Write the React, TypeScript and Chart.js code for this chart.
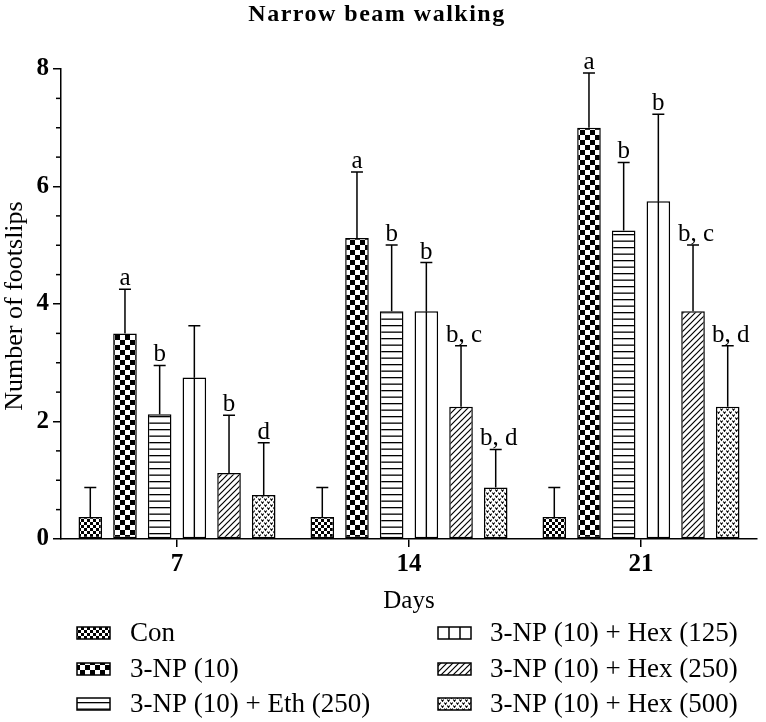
import React, { useEffect, useRef } from 'react';
import { Chart, registerables } from 'chart.js';

Chart.register(...registerables);

const days = ['7', '14', '21'];
const groupNames = [
  'Con',
  '3-NP (10)',
  '3-NP (10) + Eth (250)',
  '3-NP (10) + Hex (125)',
  '3-NP (10) + Hex (250)',
  '3-NP (10) + Hex (500)',
];
const conMean = [0.375, 0.375, 0.375];
const conErr = [0.5, 0.5, 0.5];
const npMean = [3.5, 5.125, 7.0];
const npErr = [0.75, 1.12, 0.93];
const ethMean = [2.125, 3.875, 5.25];
const ethErr = [0.83, 1.13, 1.16];
const hex125Mean = [2.75, 3.875, 5.75];
const hex125Err = [0.88, 0.83, 1.48];
const hex250Mean = [1.125, 2.25, 3.875];
const hex250Err = [0.98, 1.04, 1.13];
const hex500Mean = [0.75, 0.875, 2.25];
const hex500Err = [0.89, 0.65, 1.04];

const conLetters = ['', '', ''];
const npLetters = ['a', 'a', 'a'];
const ethLetters = ['b', 'b', 'b'];
const hex125Letters = ['', 'b', 'b'];
const hex250Letters = ['b', 'b, c', 'b, c'];
const hex500Letters = ['d', 'b, d', 'b, d'];

const yTicks = [0, 2, 4, 6, 8];

const means = [conMean, npMean, ethMean, hex125Mean, hex250Mean, hex500Mean];
const errs = [conErr, npErr, ethErr, hex125Err, hex250Err, hex500Err];
const letters = [conLetters, npLetters, ethLetters, hex125Letters, hex250Letters, hex500Letters];

const SERIF = '"Liberation Serif", "DejaVu Serif", serif';

function tile(w: number, h: number, draw: (c: CanvasRenderingContext2D) => void): CanvasPattern {
  const cv = document.createElement('canvas');
  cv.width = w;
  cv.height = h;
  const c = cv.getContext('2d')!;
  c.fillStyle = '#fff';
  c.fillRect(0, 0, w, h);
  c.fillStyle = '#000';
  c.strokeStyle = '#000';
  draw(c);
  const main = document.createElement('canvas').getContext('2d')!;
  return main.createPattern(cv, 'repeat')!;
}

function makePatterns(): (CanvasPattern | string)[] {
  const fine = tile(6, 6, (c) => {
    c.fillRect(0, 0, 3, 3);
    c.fillRect(3, 3, 3, 3);
  });
  const big = tile(10, 10, (c) => {
    c.fillRect(0, 0, 5, 5);
    c.fillRect(5, 5, 5, 5);
  });
  const hl = tile(4, 13, (c) => {
    c.fillRect(0, 0, 4, 1.3);
    c.fillRect(0, 6.5, 4, 1.3);
  });
  const diag = tile(6, 6, (c) => {
    c.lineWidth = 1.2;
    c.beginPath();
    c.moveTo(-1, 7);
    c.lineTo(7, -1);
    c.moveTo(-4, 4);
    c.lineTo(4, -4);
    c.moveTo(2, 10);
    c.lineTo(10, 2);
    c.stroke();
  });
  const dots = tile(6, 6, (c) => {
    c.lineWidth = 1.1;
    c.beginPath();
    c.moveTo(0.3, 0.5);
    c.lineTo(1.5, 2.3);
    c.lineTo(2.7, 0.5);
    c.moveTo(3.3, 3.5);
    c.lineTo(4.5, 5.3);
    c.lineTo(5.7, 3.5);
    c.stroke();
  });
  return [fine, big, hl, '#ffffff', diag, dots];
}

export default function App() {
  const ref = useRef<HTMLCanvasElement | null>(null);

  useEffect(() => {
    const canvas = ref.current;
    if (!canvas) return;
    const patterns = makePatterns();

    const overlay = {
      id: 'overlay',
      afterDatasetsDraw(chart: any) {
        const ctx = chart.ctx as CanvasRenderingContext2D;
        const ys = chart.scales.y;
        ctx.save();
        // Hex(125) centre lines
        const m3 = chart.getDatasetMeta(3);
        m3.data.forEach((el: any) => {
          ctx.strokeStyle = '#000';
          ctx.lineWidth = 1.4;
          ctx.beginPath();
          ctx.moveTo(el.x, el.y);
          ctx.lineTo(el.x, el.base);
          ctx.stroke();
        });
        // error bars and letters
        for (let d = 0; d < means.length; d++) {
          const meta = chart.getDatasetMeta(d);
          meta.data.forEach((el: any, i: number) => {
            const top = ys.getPixelForValue(means[d][i] + errs[d][i]);
            ctx.strokeStyle = '#000';
            ctx.lineWidth = 1.5;
            ctx.beginPath();
            ctx.moveTo(el.x, el.y);
            ctx.lineTo(el.x, top);
            ctx.moveTo(el.x - 6, top);
            ctx.lineTo(el.x + 6, top);
            ctx.stroke();
            const lab = letters[d][i];
            if (lab) {
              ctx.fillStyle = '#000';
              ctx.font = `25px ${SERIF}`;
              ctx.textAlign = 'center';
              ctx.textBaseline = 'alphabetic';
              ctx.fillText(lab, el.x + (lab.length > 1 ? 3 : 0), top - 4);
            }
          });
        }
        ctx.restore();
      },
      afterDraw(chart: any) {
        const ctx = chart.ctx as CanvasRenderingContext2D;
        const ys = chart.scales.y;
        const xs = chart.scales.x;
        const area = chart.chartArea;
        ctx.save();
        // minor ticks on y
        ctx.strokeStyle = '#000';
        ctx.lineWidth = 1.5;
        for (let v = 0.5; v < 8; v += 0.5) {
          if (v % 2 === 0) continue;
          const py = ys.getPixelForValue(v);
          ctx.beginPath();
          ctx.moveTo(area.left, py);
          ctx.lineTo(area.left - 5, py);
          ctx.stroke();
        }
        // title
        ctx.fillStyle = '#000';
        ctx.font = `bold 24px ${SERIF}`;
        ctx.textAlign = 'center';
        ctx.textBaseline = 'middle';
        (ctx as any).letterSpacing = '1.5px';
        ctx.fillText('Narrow beam walking', 377, 15);
        (ctx as any).letterSpacing = '0px';
        // y title
        ctx.save();
        ctx.translate(15, 306);
        ctx.rotate(-Math.PI / 2);
        ctx.font = `26px ${SERIF}`;
        ctx.textAlign = 'center';
        ctx.textBaseline = 'middle';
        ctx.fillText('Number of footslips', 0, 0);
        ctx.restore();
        // x title
        ctx.font = `25px ${SERIF}`;
        ctx.textAlign = 'center';
        ctx.textBaseline = 'middle';
        ctx.fillText('Days', (xs.left + xs.right) / 2, 601);
        // legend
        const cols = [
          { box: 77, text: 130 },
          { box: 438, text: 490 },
        ];
        const rows = [633, 669, 704];
        const bw = 33;
        const bh = 12;
        for (let k = 0; k < groupNames.length; k++) {
          const col = cols[Math.floor(k / 3)];
          const cy = rows[k % 3];
          const bx = col.box;
          const by = cy - bh / 2;
          ctx.fillStyle = patterns[k] as any;
          ctx.fillRect(bx, by, bw, bh);
          ctx.strokeStyle = '#000';
          ctx.lineWidth = 1.5;
          if (k === 3) {
            ctx.beginPath();
            ctx.moveTo(bx + bw / 3, by);
            ctx.lineTo(bx + bw / 3, by + bh);
            ctx.moveTo(bx + (2 * bw) / 3, by);
            ctx.lineTo(bx + (2 * bw) / 3, by + bh);
            ctx.stroke();
          }
          ctx.strokeRect(bx, by, bw, bh);
          ctx.fillStyle = '#000';
          ctx.font = `27px ${SERIF}`;
          ctx.textAlign = 'left';
          ctx.textBaseline = 'middle';
          ctx.fillText(groupNames[k], col.text, cy + 1);
        }
        ctx.restore();
      },
    };

    const chart = new Chart(canvas, {
      type: 'bar',
      data: {
        labels: days,
        datasets: groupNames.map((name, k) => ({
          label: name,
          data: means[k],
          backgroundColor: patterns[k] as any,
          borderColor: '#000',
          borderWidth: 1.5,
          borderSkipped: false,
          categoryPercentage: 0.897,
          barPercentage: 0.68,
        })),
      },
      options: {
        responsive: false,
        animation: false,
        devicePixelRatio: 1,
        layout: { padding: { top: 69, right: 9, left: 0, bottom: 0 } },
        plugins: {
          legend: { display: false },
          title: { display: false },
          tooltip: { enabled: false },
        },
        scales: {
          x: {
            grid: {
              display: true,
              drawOnChartArea: false,
              drawTicks: true,
              tickLength: 8,
              offset: false,
              color: '#000',
              lineWidth: 1.5,
            },
            border: { display: true, color: '#000', width: 1.5 },
            ticks: {
              color: '#000',
              padding: 3,
              font: { family: SERIF, size: 25, weight: 'bold' },
            },
            afterFit(s: any) {
              s.height = 183;
            },
          },
          y: {
            min: 0,
            max: 8,
            afterBuildTicks(s: any) {
              s.ticks = yTicks.map((v) => ({ value: v }));
            },
            grid: {
              display: true,
              drawOnChartArea: false,
              drawTicks: true,
              tickLength: 8,
              color: '#000',
              lineWidth: 1.5,
            },
            border: { display: true, color: '#000', width: 1.5 },
            ticks: {
              color: '#000',
              padding: 4,
              font: { family: SERIF, size: 25, weight: 'bold' },
            },
            afterFit(s: any) {
              s.width = 61;
            },
          },
        },
      },
      plugins: [overlay],
    });

    return () => chart.destroy();
  }, []);

  return (
    <div style={{ position: 'fixed', left: 0, top: 0, width: 766, height: 722, background: '#fff' }}>
      <canvas ref={ref} width={766} height={722} style={{ display: 'block' }} />
    </div>
  );
}
